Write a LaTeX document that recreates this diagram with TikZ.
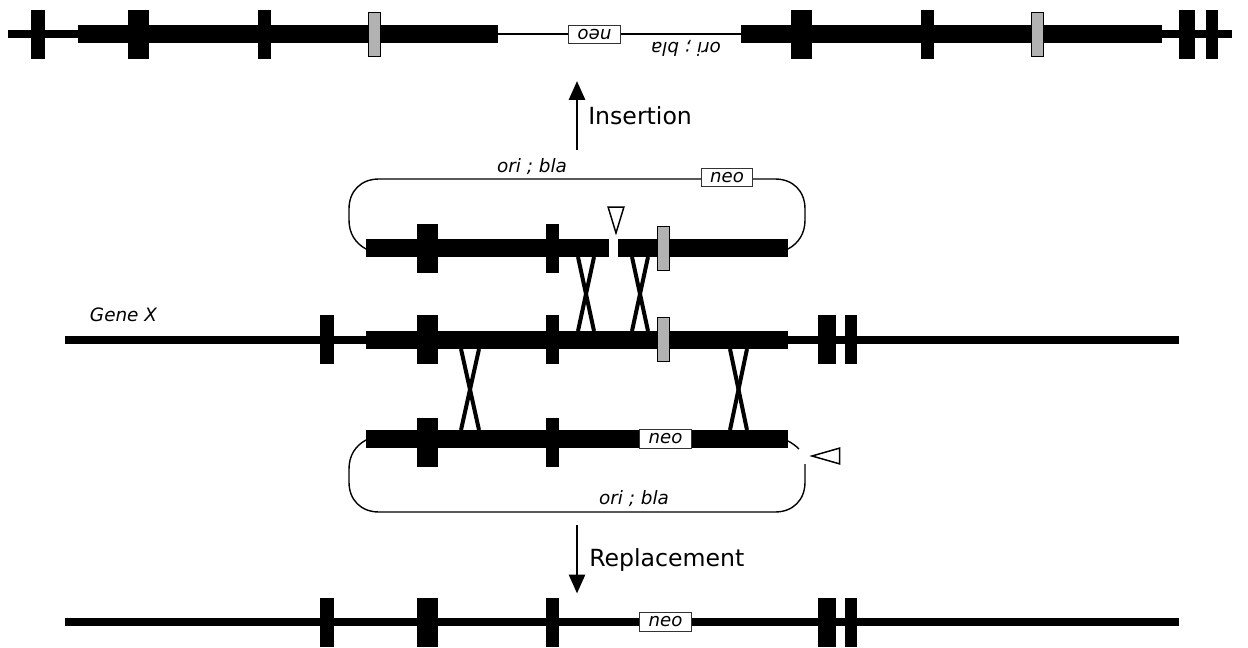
\documentclass[tikz,border=0pt]{standalone}
\usepackage{fontspec}
\setmainfont{DejaVu Sans}
\usetikzlibrary{arrows.meta,shapes.geometric}

\begin{document}
\begin{tikzpicture}[
x=0.75pt, y=-0.75pt,
exon/.style={fill=black, inner sep=0pt, minimum height=36.75pt},
marker/.style={draw=black, fill=black!30, line width=0.9pt, inner sep=0pt, minimum width=9.4pt, minimum height=33.4pt},
neobox/.style={draw=black!80, fill=white, line width=0.9pt, inner sep=0pt, minimum width=38.5pt, minimum height=13.8pt, font=\fontsize{13.6}{14}\selectfont\itshape},
label/.style={inner sep=0pt, font=\fontsize{13.8}{14}\selectfont\itshape},
step label/.style={inner sep=0pt, anchor=west, font=\fontsize{17.7}{20}\selectfont},
cut/.style={draw=black, fill=white, line width=1.1pt, regular polygon, regular polygon sides=3, inner sep=0pt, minimum size=24pt},
strand/.style={line width=6pt},
bar/.style={line width=13.5pt},
link/.style={line width=3pt},
plasmid/.style={line width=1.05pt},
arrow/.style={-{Triangle[length=14.25pt, width=12pt]}, line width=2.2pt}
]
\useasboundingbox (0,0) rectangle (1248,648);

% integrated form
\coordinate (insA) at (8,34);
\coordinate (insB) at (78,34);
\coordinate (insC) at (498,34);
\coordinate (insD) at (741,34);
\coordinate (insE) at (1162,34);
\coordinate (insF) at (1232,34);
\draw[strand] (insA) -- (insB);
\draw[bar] (insB) -- (insC);
\draw[plasmid] (insC) -- (insD);
\draw[bar] (insD) -- (insE);
\draw[strand] (insE) -- (insF);
\node[exon, minimum width=10.5pt] (ins1) at (38,34.5) {};
\node[exon, minimum width=15.75pt] (ins2) at (138.5,34.5) {};
\node[exon, minimum width=9.75pt] (ins3) at (264,34.5) {};
\node[marker] (insmark1) at (374.5,34.5) {};
\node[neobox, rotate=180] (insneo) at (594.5,34.5) {neo};
\node[label, rotate=180] (insori) at (686,48.5) {ori ; bla};
\node[exon, minimum width=15.75pt] (ins4) at (801,34.5) {};
\node[exon, minimum width=9.75pt] (ins5) at (927,34.5) {};
\node[marker] (insmark2) at (1037.5,34.5) {};
\node[exon, minimum width=12pt] (ins6) at (1187,34.5) {};
\node[exon, minimum width=9pt] (ins7) at (1211.5,34.5) {};

\coordinate (upA) at (577,150);
\coordinate (upB) at (577,81);
\draw[arrow] (upA) -- (upB);
\node[step label] (insertion) at (588,116) {Insertion};

% plasmid cut in the homology
\coordinate (plaA) at (366,249);
\coordinate (plaB) at (609,248);
\coordinate (plaC) at (618,248);
\coordinate (plaD) at (788,249);
\coordinate (plaE) at (366,248);
\coordinate (plaF) at (788,248);
\coordinate (plaG) at (701,179);
\coordinate (plaH) at (753,179);
\draw[plasmid] (plaA) .. controls (355,243) and (349,233) .. (349,220) -- (349,209) .. controls (349,191) and (361,179) .. (379,179) -- (plaG);
\draw[plasmid] (plaH) -- (775,179) .. controls (793,179) and (805,191) .. (805,209) -- (805,220) .. controls (805,233) and (799,243) .. (plaD);
\node[neobox] (planeo) at (727,177.5) {neo};
\draw[bar] (plaE) -- (plaB);
\draw[bar] (plaC) -- (plaF);
\node[exon, minimum width=15.75pt] (pla1) at (427.5,248.5) {};
\node[exon, minimum width=9.75pt] (pla2) at (552.5,248.5) {};
\node[marker] (plamark) at (663.5,248.5) {};
\node[label] (plaori) at (532,166.5) {ori ; bla};
\node[cut, shape border rotate=180, xscale=0.57, yscale=1.08] (placut) at (616,215.7) {};

% gene
\coordinate (genA) at (65,340);
\coordinate (genB) at (1179,340);
\coordinate (genC) at (366,340);
\coordinate (genD) at (788,340);
\draw[strand] (genA) -- (genB);
\draw[bar] (genC) -- (genD);
\node[label] (genename) at (123.5,315) {Gene X};
\node[exon, minimum width=10.5pt] (gen1) at (327,339.5) {};
\node[exon, minimum width=15.75pt] (gen2) at (427.5,339.5) {};
\node[exon, minimum width=9.75pt] (gen3) at (552.5,339.5) {};
\node[marker] (genmark) at (663.5,339.5) {};
\node[exon, minimum width=13.5pt] (gen4) at (827,339.5) {};
\node[exon, minimum width=9pt] (gen5) at (851,339.5) {};

% crossing over
\coordinate (xaT) at (578,257);
\coordinate (xaB) at (594,331);
\coordinate (xbT) at (594,257);
\coordinate (xbB) at (578,331);
\coordinate (xcT) at (632,257);
\coordinate (xcB) at (648,331);
\coordinate (xdT) at (648,257);
\coordinate (xdB) at (632,331);
\coordinate (xeT) at (461,349);
\coordinate (xeB) at (479,430);
\coordinate (xfT) at (479,349);
\coordinate (xfB) at (461,430);
\coordinate (xgT) at (730,349);
\coordinate (xgB) at (747,430);
\coordinate (xhT) at (747,349);
\coordinate (xhB) at (730,430);
\draw[link] (xaT) -- (xaB);
\draw[link] (xbT) -- (xbB);
\draw[link] (xcT) -- (xcB);
\draw[link] (xdT) -- (xdB);
\draw[link] (xeT) -- (xeB);
\draw[link] (xfT) -- (xfB);
\draw[link] (xgT) -- (xgB);
\draw[link] (xhT) -- (xhB);

% plasmid cut outside the homology
\coordinate (repA) at (366,439);
\coordinate (repB) at (788,439);
\coordinate (repC) at (366,440);
\coordinate (repD) at (788,441);
\coordinate (repE) at (799,449);
\coordinate (repF) at (805,464);
\draw[plasmid] (repC) .. controls (355,446) and (349,456) .. (349,469) -- (349,482) .. controls (349,500) and (361,512) .. (379,512) -- (775,512) .. controls (793,512) and (805,500) .. (805,482) -- (repF);
\draw[plasmid] (repD) .. controls (792,443) and (796,446) .. (repE);
\draw[bar] (repA) -- (repB);
\node[exon, minimum width=15.75pt] (rep1) at (427.5,442.5) {};
\node[exon, minimum width=9.75pt] (rep2) at (552.5,442.5) {};
\node[neobox] (repneo) at (665.5,439) {neo};
\node[label] (repori) at (634,498.5) {ori ; bla};
\node[cut, shape border rotate=90, xscale=1.15, yscale=0.57] (repcut) at (830.4,456) {};

\coordinate (downA) at (577,525);
\coordinate (downB) at (577,593.5);
\draw[arrow] (downA) -- (downB);
\node[step label] (replacement) at (589,560) {Replacement};

% replaced gene
\coordinate (resA) at (65,622);
\coordinate (resB) at (1179,622);
\draw[strand] (resA) -- (resB);
\node[exon, minimum width=10.5pt] (res1) at (327,622.5) {};
\node[exon, minimum width=15.75pt] (res2) at (427.5,622.5) {};
\node[exon, minimum width=9.75pt] (res3) at (552.5,622.5) {};
\node[neobox] (resneo) at (665.5,622) {neo};
\node[exon, minimum width=13.5pt] (res4) at (827,622.5) {};
\node[exon, minimum width=9pt] (res5) at (851,622.5) {};
\end{tikzpicture}
\end{document}
